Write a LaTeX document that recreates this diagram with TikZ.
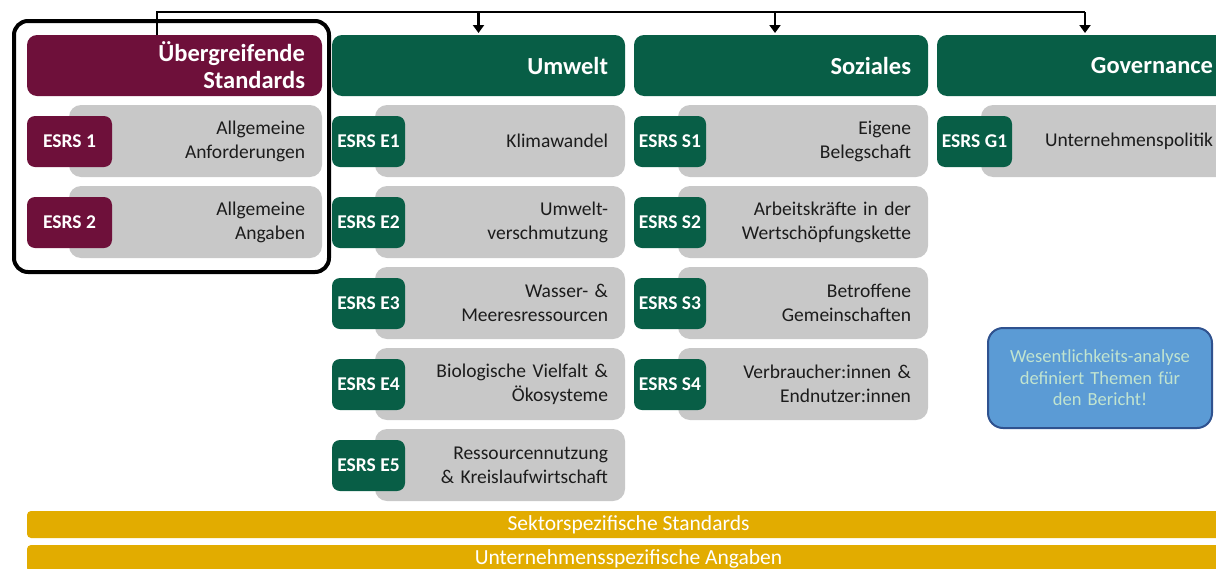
\documentclass[tikz,border=0pt]{standalone}
\usepackage{fontspec}
\setmainfont{Carlito}
\usetikzlibrary{arrows.meta}

\definecolor{maroon}{RGB}{110,16,58}
\definecolor{esgreen}{RGB}{8,94,70}
\definecolor{panelgray}{RGB}{200,200,200}
\definecolor{bargold}{RGB}{226,172,0}
\definecolor{notefill}{RGB}{91,155,213}
\definecolor{noteedge}{RGB}{47,82,143}
\definecolor{notetext}{RGB}{193,228,208}
\definecolor{bodytext}{RGB}{28,28,28}

\tikzset{
  box/.style={rectangle, anchor=north west, inner sep=0pt, outer sep=0pt},
  hdr/.style={box, rounded corners=10pt, minimum height=61pt, text=white,
    align=right, font=\bfseries\fontsize{24.5}{27}\selectfont},
  panel/.style={box, fill=panelgray, rounded corners=12pt, minimum height=72pt,
    text=bodytext, align=right, font=\fontsize{19.5}{24}\selectfont},
  badge/.style={box, rounded corners=8pt, minimum height=51pt, text=white,
    align=center, font=\bfseries\fontsize{19.5}{24}\selectfont},
  bar/.style={box, fill=bargold, rounded corners=4pt, minimum width=1203pt,
    minimum height=27pt, text=white, font=\fontsize{21.5}{24}\selectfont},
  note/.style={box, fill=notefill, draw=noteedge, line width=2pt,
    rounded corners=15pt, minimum width=224pt, minimum height=100pt,
    text=notetext, align=center, font=\fontsize{18.5}{21.5}\selectfont},
  frame/.style={box, draw=black, line width=4pt, rounded corners=14pt,
    minimum width=315pt, minimum height=251pt},
  feed/.style={line width=2.5pt, draw=black},
  arr/.style={feed, -{Triangle[width=11pt,length=8pt]}, shorten >=2pt},
}

\begin{document}
\begin{tikzpicture}[x=1pt,y=-1pt]
\useasboundingbox (0,0) rectangle (1216,568);
\clip (0,0) rectangle (1216,568);

% column headers (text sits 17pt in from the right edge)
\node[hdr, fill=maroon, minimum width=295pt, text width=261pt] (ueb) at (27,35)
  {Übergreifende\\Standards};
\node[hdr, fill=esgreen, minimum width=293pt, text width=259pt] (umw) at (332,35) {Umwelt};
\node[hdr, fill=esgreen, minimum width=294pt, text width=260pt] (soz) at (634,35) {Soziales};
\node[hdr, fill=esgreen, minimum width=293pt, text width=259pt] (gov) at (937,35) {Governance};

% cross-cutting standards
\node[panel, minimum width=253pt, text width=219pt] (p1) at (69,105) {Allgemeine\\Anforderungen};
\node[panel, minimum width=253pt, text width=219pt] (p2) at (69,186) {Allgemeine\\Angaben};
\node[badge, fill=maroon, minimum width=85pt] (b1) at (27,116) {ESRS 1};
\node[badge, fill=maroon, minimum width=85pt] (b2) at (27,197) {ESRS 2};

% environment
\node[panel, minimum width=250pt, text width=216pt] (e1) at (375,105) {Klimawandel};
\node[panel, minimum width=250pt, text width=216pt] (e2) at (375,186) {Umwelt-\\verschmutzung};
\node[panel, minimum width=250pt, text width=216pt] (e3) at (375,267) {Wasser- \&\\Meeresressourcen};
\node[panel, minimum width=250pt, text width=216pt] (e4) at (375,348) {Biologische Vielfalt \&\\Ökosysteme};
\node[panel, minimum width=250pt, text width=216pt] (e5) at (375,429) {Ressourcennutzung\\\& Kreislaufwirtschaft};
\node[badge, fill=esgreen, minimum width=73pt] (be1) at (332,116) {ESRS E1};
\node[badge, fill=esgreen, minimum width=73pt] (be2) at (332,197) {ESRS E2};
\node[badge, fill=esgreen, minimum width=73pt] (be3) at (332,278) {ESRS E3};
\node[badge, fill=esgreen, minimum width=73pt] (be4) at (332,359) {ESRS E4};
\node[badge, fill=esgreen, minimum width=73pt] (be5) at (332,440) {ESRS E5};

% social
\node[panel, minimum width=250pt, text width=216pt] (s1) at (678,105) {Eigene\\Belegschaft};
\node[panel, minimum width=250pt, text width=216pt] (s2) at (678,186) {Arbeitskräfte in der\\Wertschöpfungskette};
\node[panel, minimum width=250pt, text width=216pt] (s3) at (678,267) {Betroffene\\Gemeinschaften};
\node[panel, minimum width=250pt, text width=216pt] (s4) at (678,348) {Verbraucher:innen \&\\Endnutzer:innen};
\node[badge, fill=esgreen, minimum width=72pt] (bs1) at (634,116) {ESRS S1};
\node[badge, fill=esgreen, minimum width=72pt] (bs2) at (634,197) {ESRS S2};
\node[badge, fill=esgreen, minimum width=72pt] (bs3) at (634,278) {ESRS S3};
\node[badge, fill=esgreen, minimum width=72pt] (bs4) at (634,359) {ESRS S4};

% governance
\node[panel, minimum width=249pt, text width=215pt] (g1) at (981,105) {Unternehmenspolitik};
\node[badge, fill=esgreen, minimum width=75pt] (bg1) at (937,116) {ESRS G1};

% materiality note
\node[note, text width=210pt] (wes) at (988,328)
  {Wesentlichkeits-analyse\\definiert Themen für\\den Bericht!};

% sector and entity specific layers
\node[bar] (sek) at (27,511) {Sektorspezifische Standards};
\node[bar] (unt) at (27,545) {Unternehmensspezifische Angaben};

% frame around the cross-cutting standards
\node[frame] (grp) at (14,21) {};

% feed line from the cross-cutting standards to the topical ones
\coordinate (busL) at (157,12);
\coordinate (busR) at (1085,12);
\draw[feed] (ueb.north -| busL) -- (busL) -- (busR);
\draw[arr] (busR) -- (gov.north -| busR);
\draw[arr] (umw.north |- busL) -- (umw.north);
\draw[arr] ([xshift=-6pt]soz.north |- busL) -- ([xshift=-6pt]soz.north);
\end{tikzpicture}
\end{document}
